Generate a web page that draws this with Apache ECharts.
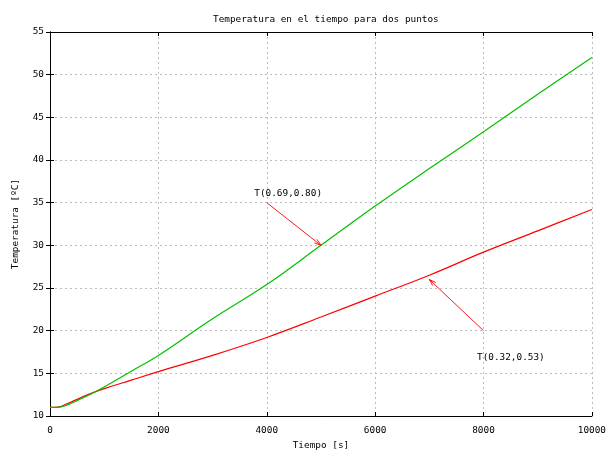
<!DOCTYPE html>
<html>
<head>
<meta charset="utf-8">
<script src="https://cdn.jsdelivr.net/npm/echarts@6/dist/echarts.min.js"></script>
<style>
  html, body { margin: 0; padding: 0; background: #fff; }
  #chart { width: 609px; height: 455px; }
</style>
</head>
<body>
<div id="chart"></div>
<script>
// Temperature histories at two points of the domain
const tiempoVerde = [0, 150, 300, 500, 700, 1000, 1500, 2000, 3000, 4000, 5000, 6000, 7000, 8000, 9000, 10000];
const tempVerde   = [11.0, 11.0, 11.25, 11.8, 12.4, 13.4, 15.25, 17.1, 21.4, 25.4, 30.0, 34.6, 39.0, 43.3, 47.7, 52.0];

const tiempoRojo = [0, 150, 300, 500, 700, 1000, 1500, 2000, 3000, 4000, 5000, 6000, 7000, 8000, 9000, 10000];
const tempRojo   = [11.0, 11.05, 11.4, 11.95, 12.5, 13.2, 14.2, 15.2, 17.1, 19.2, 21.6, 24.05, 26.5, 29.2, 31.7, 34.2];

const nombreVerde = 'T(0.69,0.80)';
const nombreRojo = 'T(0.32,0.53)';

// Annotation arrows (tail -> head) and label anchors, in data units
const flechaDesde = [[4000, 35], [8000, 20]];
const flechaHasta = [[5000, 30], [7000, 26]];
const etiquetas = [nombreVerde, nombreRojo];
const etiquetaEn = [[3770, 36.1], [7880, 16.8]];

const ticksX = { min: 0, max: 10000, interval: 2000 };
const ticksY = { min: 10, max: 55, interval: 5 };

const FONT = '"DejaVu Sans Mono", "Liberation Mono", monospace';
const FS = 9.4;

const pares = (xs, ys) => xs.map((x, i) => [x, ys[i]]);

const ejeComun = {
  type: 'value',
  axisLine: { show: true, lineStyle: { color: '#000', width: 1 } },
  axisTick: { show: true, inside: true, length: 4, lineStyle: { color: '#000' } },
  splitLine: { show: false },
  axisLabel: { show: false }
};
const rejilla = { show: true, lineStyle: { color: '#bdbdbd', type: [2, 3], width: 1 } };
const textoEje = { fontFamily: FONT, fontSize: FS, color: '#000' };

const chart = echarts.init(document.getElementById('chart'), null, { renderer: 'canvas' });

chart.setOption({
  animation: false,
  backgroundColor: '#fff',
  title: {
    text: 'Temperatura en el tiempo para dos puntos',
    left: 208,
    top: 10,
    textStyle: { fontFamily: FONT, fontSize: FS, fontWeight: 'normal', color: '#000' }
  },
  grid: { left: 50, right: 16, top: 32, bottom: 38 },
  xAxis: [
    Object.assign({}, ejeComun, ticksX, {
      position: 'bottom',
      name: 'Tiempo [s]',
      nameLocation: 'middle',
      nameGap: 25,
      nameTextStyle: textoEje,
      axisLabel: Object.assign({ show: true, margin: 10, formatter: v => String(v) }, textoEje),
      splitLine: rejilla
    }),
    Object.assign({}, ejeComun, ticksX, { position: 'top' })
  ],
  yAxis: [
    Object.assign({}, ejeComun, ticksY, {
      position: 'left',
      name: 'Temperatura [ºC]',
      nameLocation: 'middle',
      nameGap: 30,
      nameRotate: 90,
      nameTextStyle: textoEje,
      axisLabel: Object.assign({ show: true, margin: 6, formatter: v => String(v) }, textoEje),
      splitLine: rejilla
    }),
    Object.assign({}, ejeComun, ticksY, { position: 'right' })
  ],
  series: [
    {
      name: nombreRojo,
      type: 'line',
      data: pares(tiempoRojo, tempRojo),
      showSymbol: false,
      smooth: 0.4,
      lineStyle: { color: '#ff0000', width: 1.2 },
      z: 3
    },
    {
      name: nombreVerde,
      type: 'line',
      data: pares(tiempoVerde, tempVerde),
      showSymbol: false,
      smooth: 0.4,
      lineStyle: { color: '#00c000', width: 1.2 },
      z: 4
    },
    {
      // arrows with open V heads
      type: 'custom',
      data: flechaDesde.map((a, i) => [a[0], a[1], flechaHasta[i][0], flechaHasta[i][1]]),
      encode: { x: [0, 2], y: [1, 3] },
      z: 5,
      renderItem: function (params, api) {
        const p1 = api.coord([api.value(0), api.value(1)]);
        const p2 = api.coord([api.value(2), api.value(3)]);
        const ang = Math.atan2(p2[1] - p1[1], p2[0] - p1[0]);
        const L = 7, a = Math.PI / 10;
        const h1 = [p2[0] - L * Math.cos(ang - a), p2[1] - L * Math.sin(ang - a)];
        const h2 = [p2[0] - L * Math.cos(ang + a), p2[1] - L * Math.sin(ang + a)];
        const estilo = { stroke: '#ff0000', lineWidth: 0.9, fill: null };
        return {
          type: 'group',
          children: [
            { type: 'line', shape: { x1: p1[0], y1: p1[1], x2: p2[0], y2: p2[1] }, style: estilo },
            { type: 'polyline', shape: { points: [h1, p2, h2] }, style: estilo }
          ]
        };
      }
    },
    {
      // annotation texts
      type: 'custom',
      data: etiquetaEn.map((p, i) => [p[0], p[1], i]),
      encode: { x: 0, y: 1 },
      z: 6,
      renderItem: function (params, api) {
        const p = api.coord([api.value(0), api.value(1)]);
        return {
          type: 'text',
          style: {
            text: etiquetas[api.value(2)],
            x: p[0], y: p[1],
            align: 'left', verticalAlign: 'middle',
            fill: '#000',
            font: FS + 'px ' + FONT
          }
        };
      }
    }
  ]
});
</script>
</body>
</html>
